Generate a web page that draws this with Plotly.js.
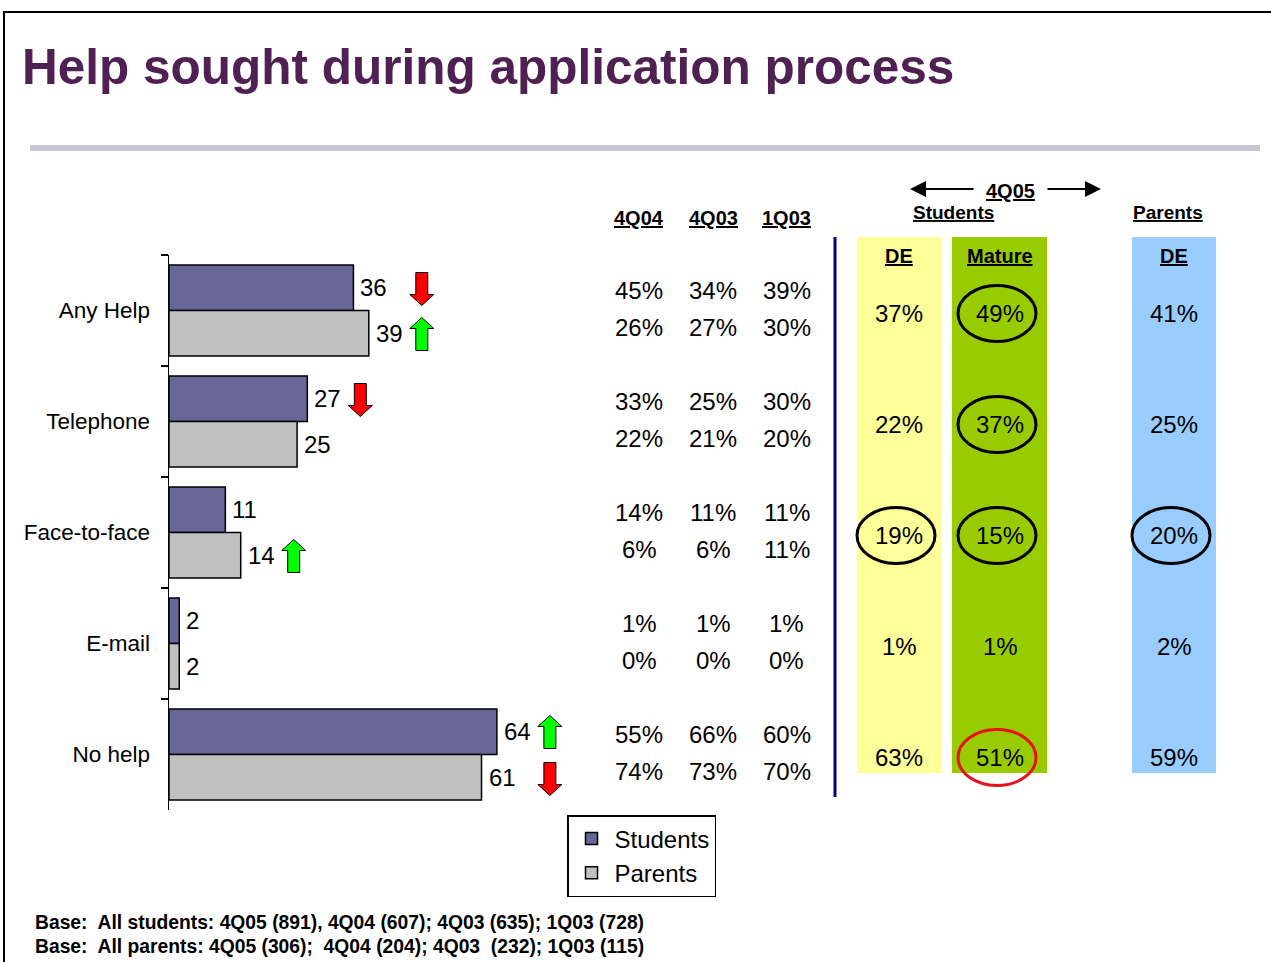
<!DOCTYPE html>
<html>
<head>
<meta charset="utf-8">
<script src="https://cdn.plot.ly/plotly-3.0.1.min.js"></script>
<style>html,body{margin:0;padding:0;background:#fff;}#chart{width:1271px;height:962px;}</style>
</head>
<body>
<div id="chart"></div>
<script>
// ---------- data ----------
const categories = ['Any Help', 'Telephone', 'Face-to-face', 'E-mail', 'No help'];
const students = [36, 27, 11, 2, 64];
const parents = [39, 25, 14, 2, 61];
const studentTrend = ['down', 'down', '', '', 'up'];
const parentTrend = ['up', '', 'up', '', 'down'];

const periods = ['4Q04', '4Q03', '1Q03'];
const students4Q04 = [45, 33, 14, 1, 55];
const parents4Q04 = [26, 22, 6, 0, 74];
const students4Q03 = [34, 25, 11, 1, 66];
const parents4Q03 = [27, 21, 6, 0, 73];
const students1Q03 = [39, 30, 11, 1, 60];
const parents1Q03 = [30, 20, 11, 0, 70];

const deStudents4Q05 = [37, 22, 19, 1, 63];
const matureStudents4Q05 = [49, 37, 15, 1, 51];
const deParents4Q05 = [41, 25, 20, 2, 59];
const deStudentsCircle = ['', '', 'black', '', ''];
const matureStudentsCircle = ['black', 'black', 'black', '', 'red'];
const deParentsCircle = ['', '', 'black', '', ''];

const footnotes = [
  'Base:  All students: 4Q05 (891), 4Q04 (607); 4Q03 (635); 1Q03 (728)',
  'Base:  All parents: 4Q05 (306);  4Q04 (204); 4Q03  (232); 1Q03 (115)'
];

// ---------- helpers ----------
const W = 1271, H = 962;
const px = p => p / W;
const py = p => 1 - p / H;
const FONT = 'Liberation Sans, Arial, sans-serif';
const RED = '#FF0000', GREEN = '#00FF00';
const arrowCols = {down: RED, up: GREEN};

function arrowPath(dx, dy, dir) {
  const s = dir === 'up' ? -1 : 1;
  const pts = [[-6, 16], [6, 16], [6, -6], [12, -6], [0, -17], [-12, -6], [-6, -6]];
  return 'M' + pts.map(([x, y]) => (dx + x) + ',' + (dy + s * y)).join(' L') + ' Z';
}

const annotations = [];
const shapes = [];
function label(o) {
  annotations.push(Object.assign({showarrow: false, xanchor: 'center', yanchor: 'middle'}, o));
}

// frame
shapes.push({type: 'rect', xref: 'paper', yref: 'paper', x0: px(4), x1: 1.02, y0: -0.02, y1: py(12),
  line: {color: 'black', width: 2}, fillcolor: 'rgba(0,0,0,0)', layer: 'below'});
// grey rule
shapes.push({type: 'rect', xref: 'paper', yref: 'paper', x0: px(30), x1: px(1260), y0: py(151), y1: py(145),
  line: {width: 0}, fillcolor: '#C6C5D2', layer: 'below'});

// bar value labels + trend arrows
categories.forEach((c, i) => {
  label({x: students[i], y: c, xref: 'x', yref: 'y', text: String(students[i]),
    xanchor: 'left', xshift: 5, yshift: 23, font: {family: FONT, size: 24, color: 'black'}});
  label({x: parents[i], y: c, xref: 'x', yref: 'y', text: String(parents[i]),
    xanchor: 'left', xshift: 5, yshift: -23, font: {family: FONT, size: 24, color: 'black'}});
  const mx = Math.max(students[i], parents[i]);
  [[studentTrend[i], 22], [parentTrend[i], -24]].forEach(([dir, dy]) => {
    if (!dir) return;
    shapes.push({type: 'path', xref: 'x', yref: 'y', xsizemode: 'pixel', ysizemode: 'pixel',
      xanchor: mx, yanchor: i, path: arrowPath(53, dy, dir),
      fillcolor: arrowCols[dir], line: {color: 'black', width: 1}});
  });
});

// historical table
const histCols = [
  {x: 639, s: students4Q04, p: parents4Q04},
  {x: 713, s: students4Q03, p: parents4Q03},
  {x: 787, s: students1Q03, p: parents1Q03}
];
histCols.forEach((col, k) => {
  label({x: px(col.x), y: py(218), xref: 'paper', yref: 'paper', text: '<b><u>' + periods[k] + '</u></b>',
    font: {family: FONT, size: 20, color: 'black'}});
  categories.forEach((c, i) => {
    label({x: px(col.x), y: c, xref: 'paper', yref: 'y', text: col.s[i] + '%',
      yshift: 20, font: {family: FONT, size: 24, color: 'black'}});
    label({x: px(col.x), y: c, xref: 'paper', yref: 'y', text: col.p[i] + '%',
      yshift: -17, font: {family: FONT, size: 24, color: 'black'}});
  });
});

// navy divider
shapes.push({type: 'line', xref: 'paper', yref: 'paper', x0: px(835), x1: px(835), y0: py(797), y1: py(237),
  line: {color: '#000080', width: 3}});

// 4Q05 bands
const bands = [
  {x0: 857, x1: 941, c: 899, color: '#FFFF99', head: 'DE', vals: deStudents4Q05, circ: deStudentsCircle},
  {x0: 952, x1: 1047, c: 1000, color: '#99CC00', head: 'Mature', vals: matureStudents4Q05, circ: matureStudentsCircle},
  {x0: 1132, x1: 1216, c: 1174, color: '#99CCFF', head: 'DE', vals: deParents4Q05, circ: deParentsCircle}
];
bands.forEach(b => {
  shapes.push({type: 'rect', xref: 'paper', yref: 'paper', x0: px(b.x0), x1: px(b.x1), y0: py(773), y1: py(237),
    line: {width: 0}, fillcolor: b.color, layer: 'below'});
  label({x: px(b.c), y: py(256), xref: 'paper', yref: 'paper', text: '<b><u>' + b.head + '</u></b>',
    font: {family: FONT, size: 20, color: 'black'}});
  categories.forEach((c, i) => {
    label({x: px(b.c), y: c, xref: 'paper', yref: 'y', text: b.vals[i] + '%',
      yshift: -3, font: {family: FONT, size: 24, color: 'black'}});
    if (b.circ[i]) {
      shapes.push({type: 'circle', xref: 'paper', yref: 'y', xsizemode: 'pixel', ysizemode: 'pixel',
        xanchor: px(b.c - 3), yanchor: i, x0: -39, x1: 39, y0: -31, y1: 25,
        line: {color: b.circ[i] === 'red' ? '#E8101A' : 'black', width: 3}, fillcolor: 'rgba(0,0,0,0)'});
    }
  });
});

// 4Q05 / Students / Parents headers
label({x: px(1010), y: py(191), xref: 'paper', yref: 'paper', text: '<b><u>4Q05</u></b>',
  font: {family: FONT, size: 20, color: 'black'}});
label({x: px(953), y: py(212), xref: 'paper', yref: 'paper', text: '<b><u>Students</u></b>',
  font: {family: FONT, size: 19, color: 'black'}});
label({x: px(1168), y: py(212), xref: 'paper', yref: 'paper', text: '<b><u>Parents</u></b>',
  font: {family: FONT, size: 19, color: 'black'}});
annotations.push({x: px(910), y: py(189), xref: 'paper', yref: 'paper', ax: 65, ay: 0, text: '', showarrow: true,
  arrowhead: 2, arrowsize: 1.6, arrowwidth: 2, arrowcolor: 'black'});
annotations.push({x: px(1101), y: py(189), xref: 'paper', yref: 'paper', ax: -55, ay: 0, text: '', showarrow: true,
  arrowhead: 2, arrowsize: 1.6, arrowwidth: 2, arrowcolor: 'black'});

// footnotes
footnotes.forEach((t, k) => {
  label({x: px(33), y: py(922 + 24 * k), xref: 'paper', yref: 'paper', xanchor: 'left', text: '<b>' + t + '</b>',
    font: {family: FONT, size: 19.3, color: 'black'}});
});

const traces = [
  {type: 'bar', orientation: 'h', name: 'Students', y: categories, x: students,
    marker: {color: '#666699', line: {color: 'black', width: 1.5}}, hoverinfo: 'x+y'},
  {type: 'bar', orientation: 'h', name: 'Parents', y: categories, x: parents,
    marker: {color: '#C0C0C0', line: {color: 'black', width: 1.5}}, hoverinfo: 'x+y'}
];

const layout = {
  width: W, height: H,
  margin: {l: 0, r: 0, t: 0, b: 0, pad: 0},
  paper_bgcolor: 'white', plot_bgcolor: 'rgba(0,0,0,0)',
  title: {text: '<b>Help sought during application process</b>', x: px(22), xanchor: 'left', xref: 'paper',
    y: py(67), yanchor: 'middle', yref: 'paper', font: {family: FONT, size: 49.5, color: '#4F2152'}},
  barmode: 'group', bargap: 0.18, bargroupgap: 0,
  xaxis: {domain: [px(169), px(835)], range: [0, 130], visible: false, fixedrange: true},
  yaxis: {domain: [py(810), py(255)], type: 'category', categoryorder: 'array', categoryarray: categories,
    autorange: 'reversed', showline: true, linecolor: 'black', linewidth: 1.5, ticks: 'outside', ticklen: 7,
    tickcolor: 'black', tickwidth: 1.5, tickson: 'boundaries', showgrid: false, zeroline: false,
    ticklabelstandoff: 13, tickfont: {family: FONT, size: 22.5, color: 'black'}, fixedrange: true},
  showlegend: true,
  legend: {x: px(567), y: py(815), xanchor: 'left', yanchor: 'top', traceorder: 'normal',
    bordercolor: 'black', borderwidth: 1.5, bgcolor: 'white', font: {family: FONT, size: 24, color: 'black'},
    tracegroupgap: 0, itemwidth: 36},
  shapes: shapes,
  annotations: annotations
};

Plotly.newPlot('chart', traces, layout, {displayModeBar: false, staticPlot: true});
</script>
</body>
</html>
